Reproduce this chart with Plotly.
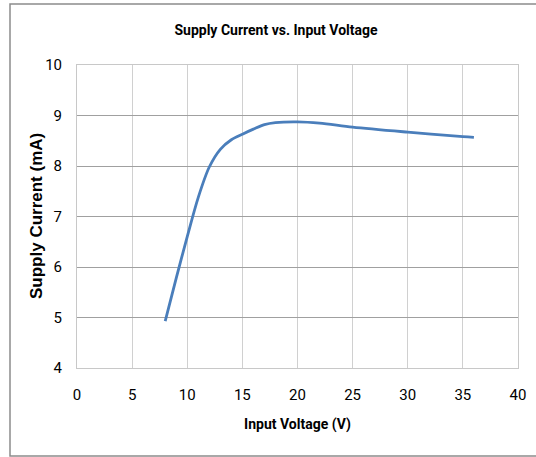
import plotly.graph_objects as go

voltage = [8, 9, 10, 11, 12, 13, 14, 15, 16, 17, 18, 20, 22, 25, 30, 35, 36]
current = [4.93, 5.78, 6.6, 7.38, 7.98, 8.33, 8.52, 8.63, 8.73, 8.82, 8.86, 8.875, 8.85, 8.77, 8.67, 8.58, 8.565]

x_ticks = [0, 5, 10, 15, 20, 25, 30, 35, 40]
y_ticks = [4, 5, 6, 7, 8, 9, 10]

NARROW = "Roboto, Liberation Sans, sans-serif"
WIDE = "Liberation Sans, Arial, sans-serif"

fig = go.Figure()
fig.add_trace(go.Scatter(
    x=voltage, y=current, mode="lines",
    line=dict(color="#4A7EBB", width=2.8, shape="spline", smoothing=0.9),
    hoverinfo="skip", showlegend=False,
))

W, H = 536, 457
L, R, T, B = 77, 18, 65, 89
pw, ph = W - L - R, H - T - B

fig.update_layout(
    width=W, height=H,
    margin=dict(l=L, r=R, t=T, b=B),
    paper_bgcolor="white", plot_bgcolor="white",
    title=dict(text="<b>Supply Current vs. Input Voltage</b>",
               xref="container", x=276 / W, xanchor="center", y=1 - 30 / H, yanchor="middle",
               font=dict(family=NARROW, size=14, color="#000000")),
    xaxis=dict(range=[0, 40], tickvals=x_ticks, ticktext=[str(v) for v in x_ticks],
               showgrid=True, gridcolor="#D0D0D0", gridwidth=1.3,
               showline=True, linecolor="#C8C8C8", linewidth=1, mirror=True,
               zeroline=False, ticks="", ticklabelstandoff=13, automargin=False,
               tickfont=dict(family=NARROW, size=15, color="#000000"),
               title=dict(text="<b>Input Voltage (V)</b>", standoff=16,
                          font=dict(family=NARROW, size=14, color="#000000"))),
    yaxis=dict(range=[4, 10], tickvals=y_ticks, ticktext=[str(v) for v in y_ticks],
               showgrid=True, gridcolor="#A0A0A0", gridwidth=1,
               showline=True, linecolor="#C8C8C8", linewidth=1, mirror=True,
               zeroline=False, ticks="", ticklabelstandoff=11, automargin=False,
               tickfont=dict(family=NARROW, size=15, color="#000000")),
    annotations=[dict(text="<b>Supply Current (mA)</b>", textangle=-90,
                      xref="paper", yref="paper", x=(36 - L) / pw, y=((H - B) - 216) / ph,
                      xanchor="center", yanchor="middle", showarrow=False,
                      font=dict(family=WIDE, size=17, color="#000000"))],
    shapes=[dict(type="rect", xref="paper", yref="paper",
                 x0=(10 - L) / pw, x1=(545 - L) / pw,
                 y0=-(456 - (H - B)) / ph, y1=((H - B) - 4) / ph,
                 line=dict(color="#8C8C8C", width=1.5), fillcolor="rgba(0,0,0,0)",
                 layer="below")],
)

fig.write_html("out.html", config={"displayModeBar": False},
               post_script="document.body.style.margin='0px';")
